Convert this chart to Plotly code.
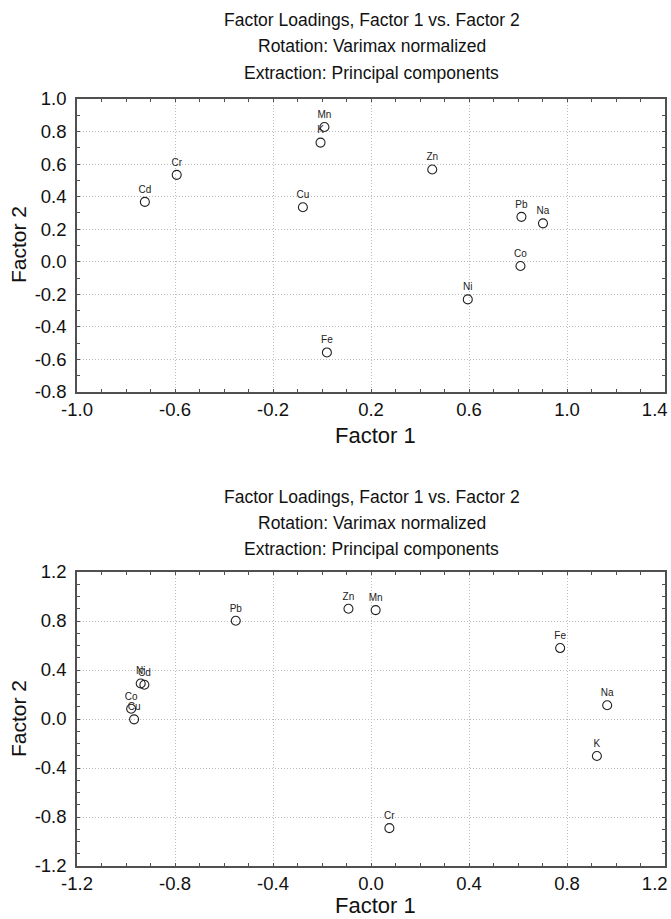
import plotly.graph_objects as go
from plotly.subplots import make_subplots

# ---- data ----
top_elements = ["Cd", "Cr", "Cu", "Mn", "K", "Zn", "Pb", "Na", "Co", "Ni", "Fe"]
top_factor1 = [-0.723, -0.593, -0.078, 0.010, -0.006, 0.450, 0.814, 0.902, 0.810, 0.595, 0.020]
top_factor2 = [0.368, 0.534, 0.335, 0.828, 0.732, 0.567, 0.276, 0.236, -0.026, -0.231, -0.557]

bottom_elements = ["Pb", "Zn", "Mn", "Ni", "Cd", "Co", "Cu", "Fe", "Na", "K", "Cr"]
bottom_factor1 = [-0.552, -0.092, 0.019, -0.940, -0.925, -0.979, -0.967, 0.772, 0.964, 0.922, 0.075]
bottom_factor2 = [0.802, 0.900, 0.889, 0.290, 0.280, 0.084, -0.003, 0.579, 0.112, -0.302, -0.891]

top_xticks = [-1.0, -0.6, -0.2, 0.2, 0.6, 1.0, 1.4]
top_xticklabels = ["-1.0", "-0.6", "-0.2", "0.2", "0.6", "1.0", "1.4"]
top_yticks = [-0.8, -0.6, -0.4, -0.2, 0.0, 0.2, 0.4, 0.6, 0.8, 1.0]
top_yticklabels = ["-0.8", "-0.6", "-0.4", "-0.2", "0.0", "0.2", "0.4", "0.6", "0.8", "1.0"]
bottom_xticks = [-1.2, -0.8, -0.4, 0.0, 0.4, 0.8, 1.2]
bottom_xticklabels = ["-1.2", "-0.8", "-0.4", "0.0", "0.4", "0.8", "1.2"]
bottom_yticks = [-1.2, -0.8, -0.4, 0.0, 0.4, 0.8, 1.2]
bottom_yticklabels = ["-1.2", "-0.8", "-0.4", "0.0", "0.4", "0.8", "1.2"]

title_lines = ["Factor Loadings, Factor 1 vs. Factor 2",
               "Rotation: Varimax normalized",
               "Extraction: Principal components"]
x_title = "Factor 1"
y_title = "Factor 2"

FONT = "Arial, Liberation Sans, sans-serif"
W, H = 671, 919
PL, PR = 77, 665             # plot left / right in window pixels
L, R = PL, W - PR


def pad_last(labels):
    # last label sits flush against the right edge, as in the original
    return labels[:-1] + [labels[-1] + "\u00a0" * 4]


fig = make_subplots(rows=2, cols=1)

for row, (names, fx, fy) in enumerate([(top_elements, top_factor1, top_factor2),
                                        (bottom_elements, bottom_factor1, bottom_factor2)], start=1):
    fig.add_trace(go.Scatter(
        x=fx, y=fy, text=names, mode="markers+text", textposition="top center",
        textfont=dict(family=FONT, size=10, color="#222"),
        marker=dict(symbol="circle-open", size=9, color="#222", line=dict(width=1.1)),
        showlegend=False, cliponaxis=False, hoverinfo="skip"), row=row, col=1)


def py(px):
    """window pixel row -> paper y fraction"""
    return 1 - px / H


def px_(px):
    """window pixel column -> paper x fraction"""
    return (px - L) / (W - L - R)


axis_common = dict(
    showline=True, linecolor="#505050", linewidth=1.5, mirror="allticks",
    ticks="inside", ticklen=3, tickcolor="#505050", tickwidth=1,
    showgrid=True, gridcolor="#bdbdbd", griddash="1px,2px", gridwidth=1,
    zeroline=False, tickfont=dict(family=FONT, size=18.5, color="#111"),
    automargin=False, ticklabeloverflow="allow",
)
minor = dict(ticks="inside", dtick=0.1, tick0=0, ticklen=3, tickcolor="#505050", showgrid=False)

fig.update_xaxes(axis_common, row=1, col=1, range=[-1.0, 1.4], tickmode="array",
                 tickvals=top_xticks, ticktext=pad_last(top_xticklabels), minor=minor, domain=[0, 1])
fig.update_yaxes(axis_common, row=1, col=1, range=[-0.8, 1.0], tickmode="array",
                 tickvals=top_yticks, ticktext=top_yticklabels, minor=minor,
                 ticklabelstandoff=5, domain=[py(392), py(99)])
fig.update_xaxes(axis_common, row=2, col=1, range=[-1.2, 1.2], tickmode="array",
                 tickvals=bottom_xticks, ticktext=pad_last(bottom_xticklabels), minor=minor, domain=[0, 1])
fig.update_yaxes(axis_common, row=2, col=1, range=[-1.2, 1.2], tickmode="array",
                 tickvals=bottom_yticks, ticktext=bottom_yticklabels, minor=minor,
                 ticklabelstandoff=5, domain=[py(866), py(572)])

annotations = []
xc = px_(372)
for lines_y in ([20, 46, 73], [497, 523, 549]):
    for line, yy in zip(title_lines, lines_y):
        annotations.append(dict(text=line, x=xc, y=py(yy), xref="paper", yref="paper",
                                showarrow=False, xanchor="center", yanchor="middle",
                                font=dict(family=FONT, size=17.5, color="#111")))
for yy in [436, 905]:
    annotations.append(dict(text=x_title, x=px_(375), y=py(yy), xref="paper", yref="paper",
                            showarrow=False, xanchor="center", yanchor="middle",
                            font=dict(family=FONT, size=22, color="#111")))
for yy in [245, 719]:
    annotations.append(dict(text=y_title, x=px_(18), y=py(yy), xref="paper", yref="paper",
                            showarrow=False, xanchor="center", yanchor="middle", textangle=-90,
                            font=dict(family=FONT, size=21, color="#111")))

fig.update_layout(
    template="none",
    width=W, height=H, margin=dict(l=L, r=R, t=0, b=0),
    paper_bgcolor="white", plot_bgcolor="white",
    annotations=annotations,
)

fig.write_html("out.html",
               config={"displayModeBar": False},
               post_script="document.body.style.margin='0';document.body.style.overflow='hidden';")
